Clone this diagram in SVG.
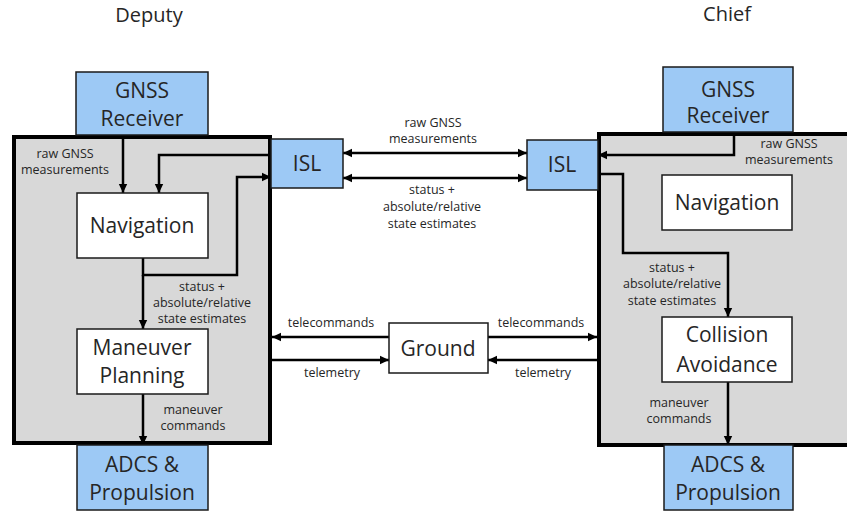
<svg xmlns="http://www.w3.org/2000/svg" width="847" height="513" viewBox="0 0 847 513">
<style>
text{font-family:"Open Sans","Liberation Sans",sans-serif;fill:#262626;text-anchor:middle}
.t{font-size:20px}
.n{font-size:21px}
.s{font-size:12.5px}
.sat{fill:#d8d8d8;stroke:#000;stroke-width:4}
.blue{fill:#9dc9f5;stroke:#1a1a1a;stroke-width:1.5}
.white{fill:#fff;stroke:#1a1a1a;stroke-width:1.5}
.c{fill:none;stroke:#000;stroke-width:2.5}
</style>
<defs>
<marker id="a" markerUnits="userSpaceOnUse" markerWidth="10" markerHeight="10" refX="9" refY="5" orient="auto-start-reverse"><path d="M0,0.8 L9,5 L0,9.2 Z" fill="#000"/></marker>
</defs>
<rect width="847" height="513" fill="#fff"/>
<text class="t" x="149" y="22">Deputy</text>
<text class="t" x="727" y="21">Chief</text>
<g id="deputy">
<rect class="sat" x="14" y="137" width="256" height="306"/>
</g>
<g id="chief">
<rect class="sat" x="599" y="134" width="260" height="311"/>
</g>
<g id="connectors">
<path class="c" d="M123 137 V193" marker-end="url(#a)"/>
<path class="c" d="M271 155 H159 V193" marker-end="url(#a)"/>
<path class="c" d="M143 258 V275 H237 V177 H271" marker-end="url(#a)"/>
<path class="c" d="M143 275 V329" marker-end="url(#a)"/>
<path class="c" d="M143 394 V445" marker-end="url(#a)"/>
<path class="c" d="M343 153 H527" marker-start="url(#a)" marker-end="url(#a)"/>
<path class="c" d="M343 178 H527" marker-start="url(#a)" marker-end="url(#a)"/>
<path class="c" d="M734 134 V155 H598" marker-end="url(#a)"/>
<path class="c" d="M598 174 H623 V253 H728 V317" marker-end="url(#a)"/>
<path class="c" d="M728 382 V445" marker-end="url(#a)"/>
<path class="c" d="M389 337 H272" marker-end="url(#a)"/>
<path class="c" d="M272 360 H389" marker-end="url(#a)"/>
<path class="c" d="M488 337 H597" marker-end="url(#a)"/>
<path class="c" d="M597 360 H488" marker-end="url(#a)"/>
</g>
<g id="d-gnss"><rect class="blue" x="76" y="72" width="132" height="63"/><text class="n" x="142" y="98">GNSS</text><text class="n" x="142" y="126">Receiver</text></g>
<g id="d-isl"><rect class="blue" x="271" y="139" width="72" height="49"/><text class="n" x="307" y="171">ISL</text></g>
<g id="d-nav"><rect class="white" x="77" y="193" width="131" height="65"/><text class="n" x="142" y="233">Navigation</text></g>
<g id="d-mp"><rect class="white" x="77" y="329" width="131" height="65"/><text class="n" x="142" y="355">Maneuver</text><text class="n" x="142" y="383">Planning</text></g>
<g id="d-adcs"><rect class="blue" x="77" y="445" width="131" height="65"/><text class="n" x="142" y="472">ADCS &amp;</text><text class="n" x="142" y="500">Propulsion</text></g>
<g id="c-gnss"><rect class="blue" x="663" y="67" width="130" height="65"/><text class="n" x="728" y="97">GNSS</text><text class="n" x="728" y="123">Receiver</text></g>
<g id="c-isl"><rect class="blue" x="527" y="140" width="71" height="50"/><text class="n" x="562" y="172">ISL</text></g>
<g id="c-nav"><rect class="white" x="662" y="175" width="130" height="55"/><text class="n" x="727" y="210">Navigation</text></g>
<g id="c-ca"><rect class="white" x="662" y="317" width="130" height="65"/><text class="n" x="727" y="342">Collision</text><text class="n" x="727" y="372">Avoidance</text></g>
<g id="c-adcs"><rect class="blue" x="664" y="445" width="129" height="65"/><text class="n" x="728" y="472">ADCS &amp;</text><text class="n" x="728" y="500">Propulsion</text></g>
<g id="ground"><rect class="white" x="389" y="323" width="99" height="50"/><text class="n" x="438" y="356">Ground</text></g>
<g id="labels">
<text class="s" x="65" y="158">raw GNSS</text><text class="s" x="65" y="174">measurements</text>
<text class="s" x="202" y="291">status +</text><text class="s" x="202" y="307">absolute/relative</text><text class="s" x="202" y="323">state estimates</text>
<text class="s" x="193" y="414">maneuver</text><text class="s" x="193" y="430">commands</text>
<text class="s" x="433" y="127">raw GNSS</text><text class="s" x="433" y="143">measurements</text>
<text class="s" x="432" y="194">status +</text><text class="s" x="432" y="211">absolute/relative</text><text class="s" x="432" y="228">state estimates</text>
<text class="s" x="789" y="148">raw GNSS</text><text class="s" x="789" y="164">measurements</text>
<text class="s" x="672" y="272">status +</text><text class="s" x="672" y="288">absolute/relative</text><text class="s" x="672" y="305">state estimates</text>
<text class="s" x="679" y="407">maneuver</text><text class="s" x="679" y="423">commands</text>
<text class="s" x="331" y="327">telecommands</text><text class="s" x="332" y="377">telemetry</text>
<text class="s" x="541" y="327">telecommands</text><text class="s" x="543" y="377">telemetry</text>
</g>
</svg>
